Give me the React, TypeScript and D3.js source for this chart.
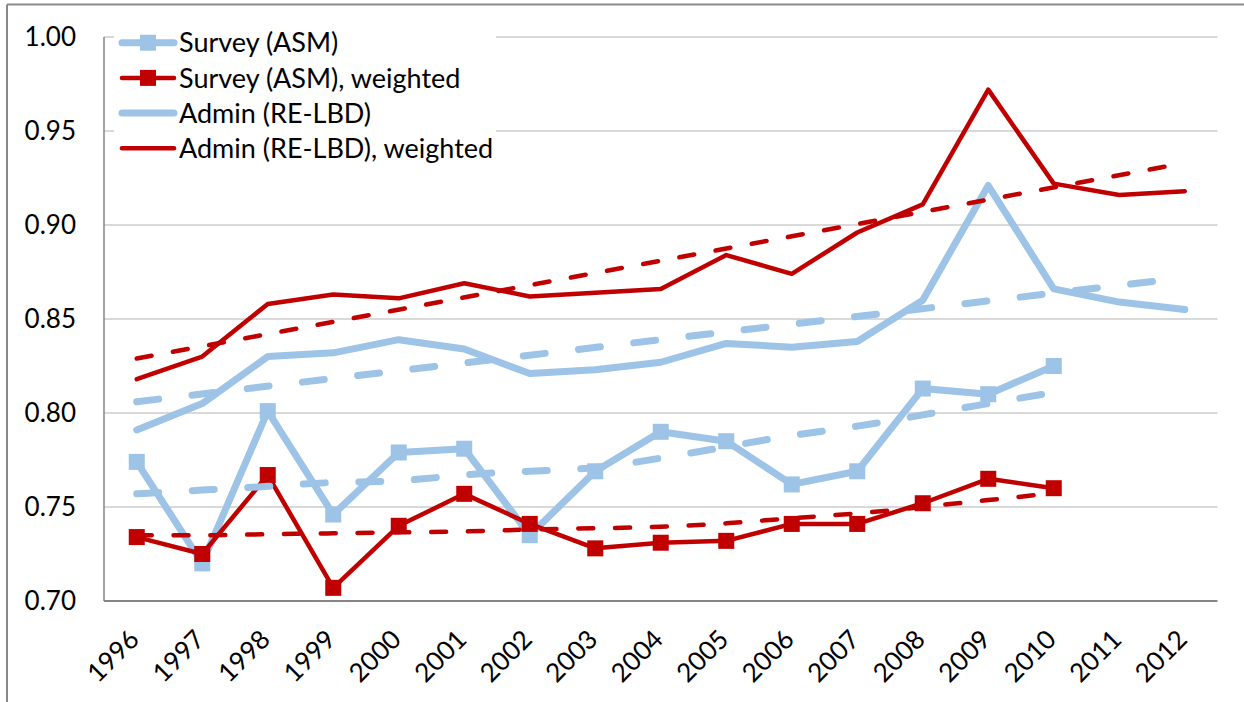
import React from "react";
import * as d3 from "d3";

const years = [1996, 1997, 1998, 1999, 2000, 2001, 2002, 2003, 2004, 2005, 2006, 2007, 2008, 2009, 2010, 2011, 2012];
const yTicks = [0.7, 0.75, 0.8, 0.85, 0.9, 0.95, 1.0];

const surveyYears = [1996, 1997, 1998, 1999, 2000, 2001, 2002, 2003, 2004, 2005, 2006, 2007, 2008, 2009, 2010];
const surveyASM = [0.774, 0.720, 0.801, 0.746, 0.779, 0.781, 0.735, 0.769, 0.790, 0.785, 0.762, 0.769, 0.813, 0.810, 0.825];
const surveyASMWeighted = [0.734, 0.725, 0.767, 0.707, 0.740, 0.757, 0.741, 0.728, 0.731, 0.732, 0.741, 0.741, 0.752, 0.765, 0.760];
const adminRELBD = [0.791, 0.805, 0.830, 0.832, 0.839, 0.834, 0.821, 0.823, 0.827, 0.837, 0.835, 0.838, 0.860, 0.921, 0.866, 0.859, 0.855];
const adminRELBDWeighted = [0.818, 0.830, 0.858, 0.863, 0.861, 0.869, 0.862, 0.864, 0.866, 0.884, 0.874, 0.896, 0.911, 0.972, 0.922, 0.916, 0.918];

// trendlines
const trendSurveyASM = [0.757, 0.759, 0.761, 0.763, 0.764, 0.767, 0.769, 0.771, 0.776, 0.782, 0.788, 0.793, 0.799, 0.805, 0.811];
const trendSurveyASMWeighted = [0.735, 0.735, 0.7355, 0.736, 0.7365, 0.737, 0.738, 0.7387, 0.7395, 0.7413, 0.744, 0.7466, 0.750, 0.7537, 0.7573];
const trendAdminYears = [1996, 2012];
const trendAdminRELBD = [0.806, 0.872];
const trendAdminRELBDWeighted = [0.829, 0.933];

const legendLabels = ["Survey (ASM)", "Survey (ASM), weighted", "Admin (RE-LBD)", "Admin (RE-LBD), weighted"];

const BLUE = "#9DC3E6";
const RED = "#C00000";
const FONT = "Lato, 'Open Sans', sans-serif";

export default function App() {
  const W = 1244, H = 702;
  const left = 104, right = 1217.5, top = 37, bottom = 601;
  const xBand = d3.scaleBand<number>().domain(years).range([left, right]).padding(0);
  const x = (yr: number) => (xBand(yr) as number) + xBand.bandwidth() / 2;
  const y = d3.scaleLinear().domain([0.7, 1.0]).range([bottom, top]);

  const line = (xs: number[], vs: number[], curve: d3.CurveFactory = d3.curveLinear) =>
    d3.line<number>().x((_, i) => x(xs[i])).y((v) => y(v)).curve(curve)(vs) as string;

  const markers = (xs: number[], vs: number[], color: string, size: number) =>
    vs.map((v, i) => (
      <rect key={i} x={x(xs[i]) - size / 2} y={y(v) - size / 2} width={size} height={size} fill={color} />
    ));

  const legendRows = [0, 1, 2, 3].map((i) => 42.7 + i * 35.2);

  return (
    <svg width={W} height={H} style={{ position: "absolute", left: 0, top: 0, background: "#fff" }} fontFamily={FONT}>
      <rect x={0} y={0} width={W} height={H} fill="#fff" />
      {/* outer frame */}
      <line x1={7} y1={4.5} x2={W} y2={4.5} stroke="#8a8a8a" strokeWidth={2} />
      <line x1={7} y1={4.5} x2={7} y2={H} stroke="#8a8a8a" strokeWidth={2} />

      {/* gridlines */}
      {yTicks.slice(1).map((t) => (
        <line key={t} x1={left} x2={right} y1={y(t)} y2={y(t)} stroke="#d9d9d9" strokeWidth={2} />
      ))}
      {/* axes */}
      <line x1={left} x2={left} y1={top} y2={bottom} stroke="#868686" strokeWidth={1.5} />
      <line x1={left} x2={right} y1={bottom} y2={bottom} stroke="#868686" strokeWidth={2} />

      {/* y labels */}
      {yTicks.map((t) => (
        <text key={t} x={76} y={y(t)} dy="0.36em" textAnchor="end" fontSize={26} fill="#000">
          {d3.format(".2f")(t)}
        </text>
      ))}
      {/* x labels */}
      {years.map((yr) => (
        <text key={yr} transform={`translate(${x(yr) + 4},641) rotate(-45)`} textAnchor="end" fontSize={26} fill="#000">
          {yr}
        </text>
      ))}

      {/* series */}
      <path d={line(surveyYears, surveyASM)} fill="none" stroke={BLUE} strokeWidth={7} strokeLinejoin="round" />
      {markers(surveyYears, surveyASM, BLUE, 16)}
      <path d={line(surveyYears, surveyASMWeighted)} fill="none" stroke={RED} strokeWidth={4.5} strokeLinejoin="round" />
      {markers(surveyYears, surveyASMWeighted, RED, 16)}
      <path d={line(years, adminRELBD)} fill="none" stroke={BLUE} strokeWidth={7} strokeLinejoin="round" strokeLinecap="round" />
      <path d={line(years, adminRELBDWeighted)} fill="none" stroke={RED} strokeWidth={4.5} strokeLinejoin="round" strokeLinecap="round" />

      {/* trendlines */}
      <path d={line(surveyYears, trendSurveyASM, d3.curveNatural)} fill="none" stroke={BLUE} strokeWidth={7} strokeDasharray="22 33.6" strokeLinecap="round" />
      <path d={line(surveyYears, trendSurveyASMWeighted, d3.curveNatural)} fill="none" stroke={RED} strokeWidth={4.5} strokeDasharray="15 21.8" strokeLinecap="round" />
      <path d={line(trendAdminYears, trendAdminRELBD)} fill="none" stroke={BLUE} strokeWidth={7} strokeDasharray="22 33.6" strokeLinecap="round" />
      <path d={line(trendAdminYears, trendAdminRELBDWeighted)} fill="none" stroke={RED} strokeWidth={4.5} strokeDasharray="15 21.8" strokeLinecap="round" />

      {/* legend */}
      <rect x={114} y={26} width={382} height={140} fill="#fff" />
      {legendLabels.map((lab, i) => {
        const cy = legendRows[i];
        const color = i % 2 === 0 ? BLUE : RED;
        const sw = i % 2 === 0 ? 7 : 4.5;
        return (
          <g key={lab}>
            <line x1={122} x2={174} y1={cy} y2={cy} stroke={color} strokeWidth={sw} strokeLinecap="round" />
            {i < 2 && <rect x={148 - 8} y={cy - 8} width={16} height={16} fill={color} />}
            <text x={179} y={cy} dy="0.36em" fontSize={27} fill="#000">{lab}</text>
          </g>
        );
      })}
    </svg>
  );
}
